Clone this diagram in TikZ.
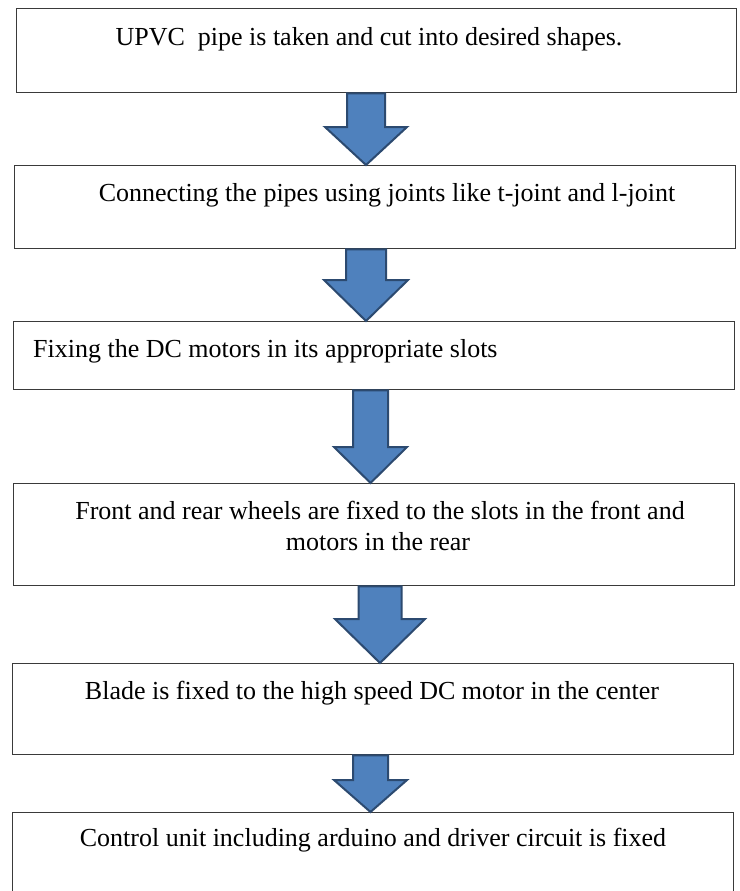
\documentclass[tikz,border=0pt]{standalone}
\usepackage{fontspec}
\setmainfont{Liberation Serif}
\usetikzlibrary{calc}
\definecolor{arrowfill}{HTML}{4F81BD}
\definecolor{arrowedge}{HTML}{2C4A70}
\definecolor{boxedge}{HTML}{3A3A3A}
\tikzset{
  stepbox/.style={draw=boxedge, line width=1.4pt, fill=white, inner sep=0pt, anchor=north west},
  steptext/.style={inner sep=0pt, font=\fontsize{26}{30}\selectfont, anchor=base},
  blockarrow/.style={fill=arrowfill, draw=arrowedge, line width=2pt, line join=miter}
}
% from, to, centre x, shaft half width, head half width, head length
\newcommand\flowarrow[6]{%
  \draw[blockarrow] let \p1=(#1.south), \p2=(#2.north) in
    (#3pt-#4pt,\y1) -- (#3pt+#4pt,\y1) -- (#3pt+#4pt,\y2+#6pt) -- (#3pt+#5pt,\y2+#6pt)
    -- (#3pt,\y2) -- (#3pt-#5pt,\y2+#6pt) -- (#3pt-#4pt,\y2+#6pt) -- cycle;}
\begin{document}
\begin{tikzpicture}[x=1pt,y=-1pt]
\useasboundingbox (0,0) rectangle (739,891);
\clip (0,0) rectangle (739,891);
\fill[white] (0,0) rectangle (739,891);
% boxes
\node[stepbox, minimum width=720pt, minimum height=84pt] (b1) at (15.5,8) {};
\node[stepbox, minimum width=721pt, minimum height=83pt] (b2) at (14,165) {};
\node[stepbox, minimum width=721pt, minimum height=68pt] (b3) at (13,321) {};
\node[stepbox, minimum width=721pt, minimum height=102pt] (b4) at (13,483) {};
\node[stepbox, minimum width=721pt, minimum height=91pt] (b5) at (12,663) {};
\node[stepbox, minimum width=721pt, minimum height=120pt] (b6) at (12,812) {};
% texts
\node[steptext] (t1) at (369,46) {UPVC\ \ pipe is taken and cut into desired shapes.};
\node[steptext] (t2) at (387,201) {Connecting the pipes using joints like t-joint and l-joint};
\node[steptext, anchor=base west] (t3) at (33,357) {Fixing the DC motors in its appropriate slots};
\node[steptext] (t4a) at (380,519) {Front and rear wheels are fixed to the slots in the front and};
\node[steptext] (t4b) at (378,550) {motors in the rear};
\node[steptext] (t5) at (372,699) {Blade is fixed to the high speed DC motor in the center};
\node[steptext] (t6) at (373,846) {Control unit including arduino and driver circuit is fixed};
% arrows
\flowarrow{b1}{b2}{366}{19}{41}{38}
\flowarrow{b2}{b3}{366}{20}{42}{41}
\flowarrow{b3}{b4}{370.5}{17.5}{36.5}{36}
\flowarrow{b4}{b5}{380}{21.5}{45}{44}
\flowarrow{b5}{b6}{370.5}{17.5}{36.5}{32}
\end{tikzpicture}
\end{document}
